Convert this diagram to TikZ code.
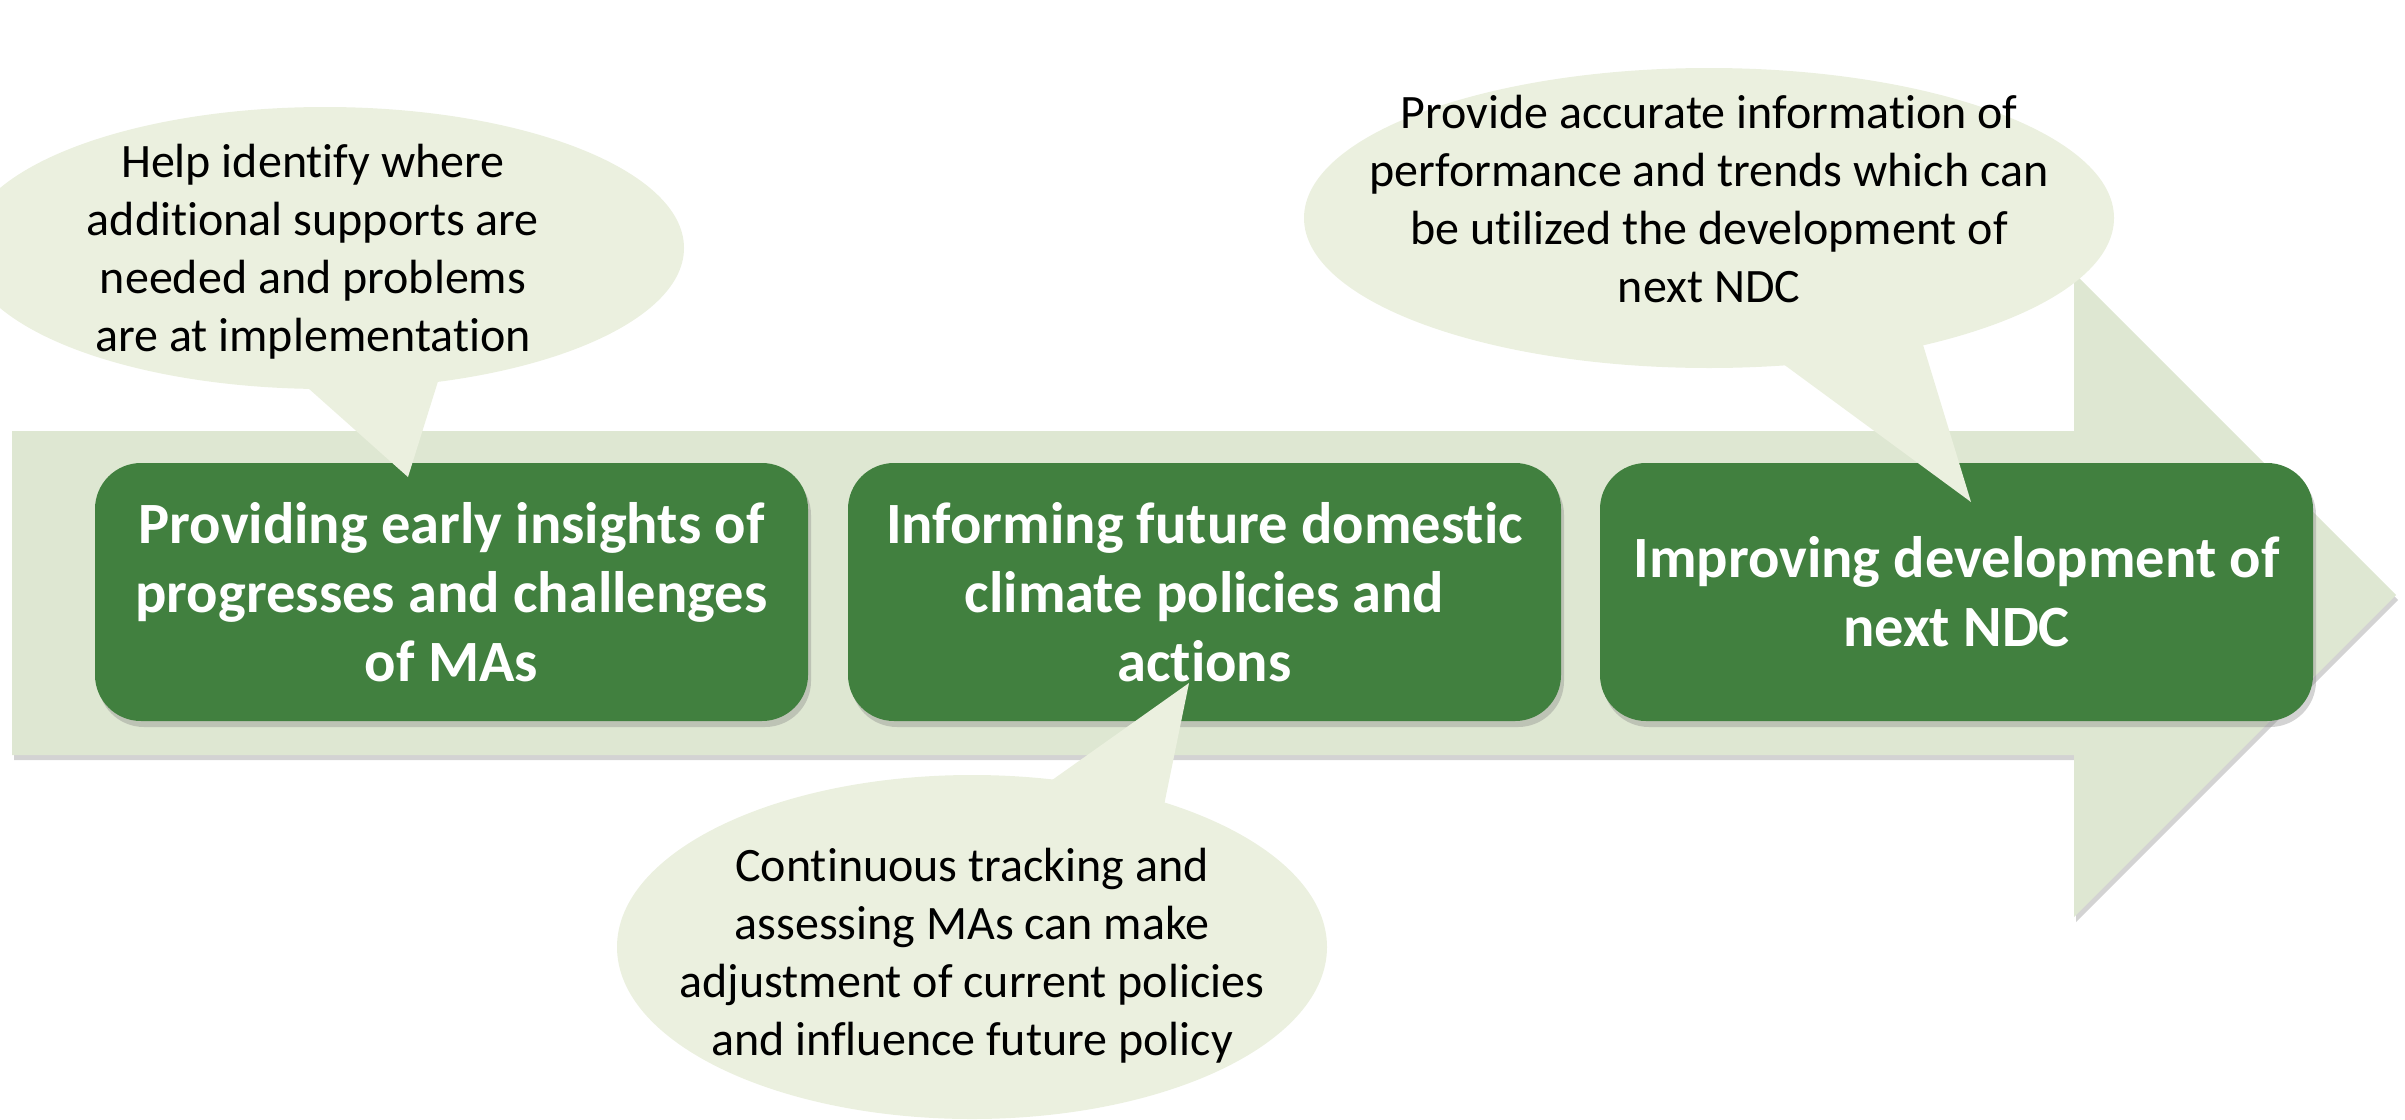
\documentclass[tikz,border=0pt]{standalone}
\usepackage{fontspec}
\setmainfont{Carlito}[Ligatures=NoCommon]
\usetikzlibrary{shapes.geometric,shadows}
\definecolor{arrowfill}{HTML}{DEE7D2}
\definecolor{callfill}{HTML}{EBF0DF}
\definecolor{boxfill}{HTML}{41803F}
\begin{document}
\begin{tikzpicture}[x=1pt,y=-1pt,
  stepbox/.style={rounded corners=46pt, fill=boxfill, text=white,
    font=\fontsize{58.5}{69}\selectfont\bfseries, align=center,
    minimum width=713pt, minimum height=258pt, inner sep=0pt,
    drop shadow={opacity=0.35, shadow xshift=3pt, shadow yshift=-6pt}},
  callout/.style={ellipse, fill=callfill, inner sep=0pt},
  calltext/.style={font=\fontsize{48}{58}\selectfont, align=center, inner sep=0pt},
  tail/.style={fill=callfill}]
\useasboundingbox (0,0) rectangle (2405,1119);
% big arrow
\fill[arrowfill, drop shadow={opacity=0.35, shadow xshift=2pt, shadow yshift=-5pt}]
  (12,431) -- (2074,431) -- (2074,273) -- (2396,595) -- (2074,917) -- (2074,755) -- (12,755) -- cycle;
% boxes
\node[stepbox] (b1) at (451.5,592) {Providing early insights of\\progresses and challenges\\of MAs};
\node[stepbox] (b2) at (1204.5,592) {Informing future domestic\\climate policies and\\actions};
\node[stepbox] (b3) at (1956.5,592) {Improving development of\\next NDC};
% callout 1
\node[callout, minimum width=718pt, minimum height=282pt] (e1) at (325,248) {};
\coordinate (k1) at (408,477);
\fill[tail] (299,380) -- (k1) -- (440,375) -- cycle;
\node[calltext] (t1) at (313,252) {Help identify where\\additional supports are\\needed and problems\\are at implementation};
% callout 2
\node[callout, minimum width=810pt, minimum height=300pt] (e2) at (1709,218) {};
\coordinate (k2) at (1971,502);
\fill[tail] (1775,358) -- (k2) -- (1920,335) -- cycle;
\node[calltext] (t2) at (1709,199) {Provide accurate information of\\performance and trends which can\\be utilized the development of\\next NDC};
% callout 3
\node[callout, minimum width=710pt, minimum height=344pt] (e3) at (972,947) {};
\coordinate (k3) at (1189,683);
\fill[tail] (1038,790) -- (k3) -- (1161,820) -- cycle;
\node[calltext] (t3) at (972,956) {Continuous tracking and\\assessing MAs can make\\adjustment of current policies\\and influence future policy};
\end{tikzpicture}
\end{document}
